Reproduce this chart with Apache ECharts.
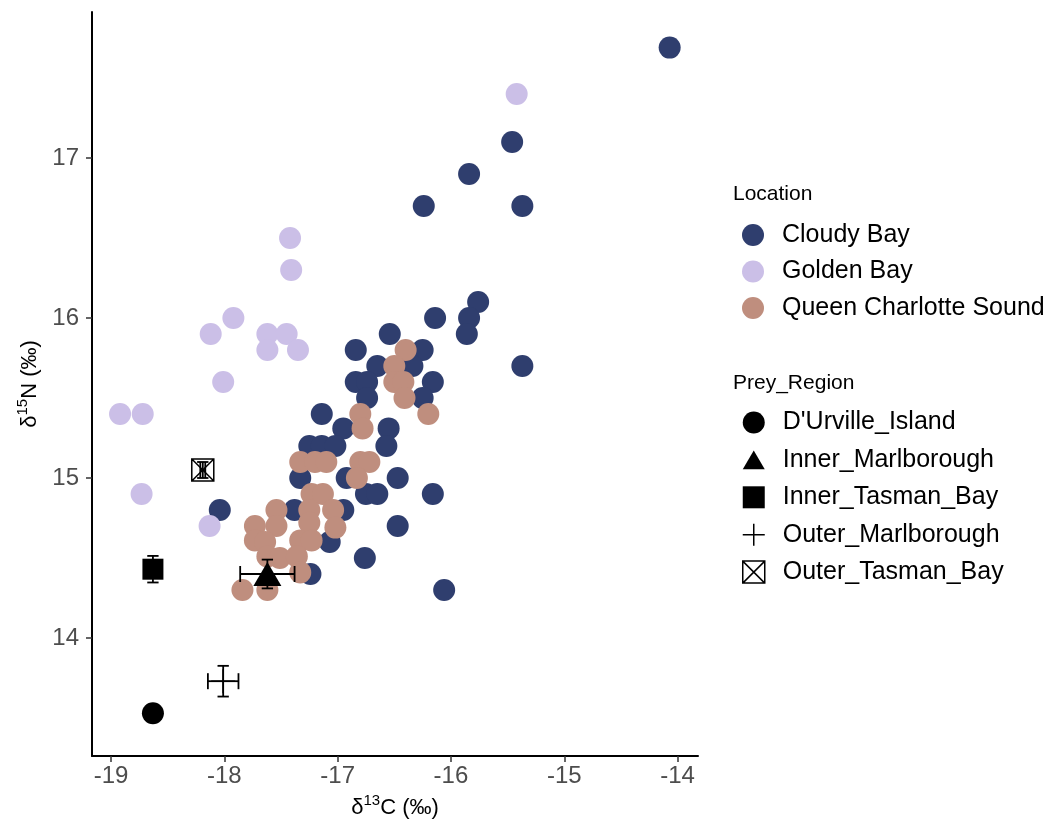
<!DOCTYPE html>
<html>
<head>
<meta charset="utf-8">
<title>δ13C vs δ15N by location and prey region</title>
<script src="https://cdn.jsdelivr.net/npm/echarts@6/dist/echarts.min.js"></script>
<style>
  html, body { margin: 0; padding: 0; background: #fff; }
  #chart { width: 1053px; height: 832px; }
</style>
</head>
<body>
<div id="chart"></div>
<script>
// Consumer isotope values [δ13C, δ15N] per sampling location
const cloudyBay = [
  [-14.07, 17.69], [-15.46, 17.10], [-15.84, 16.90], [-16.24, 16.70], [-15.37, 16.70],
  [-15.76, 16.10], [-15.84, 16.00], [-16.14, 16.00], [-15.86, 15.90], [-16.54, 15.90],
  [-15.37, 15.70], [-16.84, 15.80], [-16.25, 15.80], [-16.65, 15.70], [-16.34, 15.70],
  [-16.84, 15.60], [-16.74, 15.60], [-16.16, 15.60], [-16.74, 15.50], [-16.25, 15.50],
  [-17.14, 15.40], [-16.95, 15.31], [-16.55, 15.31], [-16.57, 15.20], [-17.25, 15.20],
  [-17.14, 15.20], [-17.02, 15.20], [-17.33, 15.00], [-16.92, 15.00], [-16.47, 15.00],
  [-16.16, 14.90], [-16.75, 14.90], [-16.65, 14.90], [-17.38, 14.80], [-16.95, 14.80],
  [-18.04, 14.80], [-17.07, 14.60], [-16.76, 14.50], [-16.47, 14.70], [-16.06, 14.30],
  [-17.24, 14.40]
];
const goldenBay = [
  [-15.42, 17.40], [-17.42, 16.50], [-17.41, 16.30], [-17.92, 16.00], [-18.12, 15.90],
  [-17.62, 15.90], [-17.45, 15.90], [-17.62, 15.80], [-17.35, 15.80], [-18.01, 15.60],
  [-18.92, 15.40], [-18.72, 15.40], [-18.73, 14.90], [-18.13, 14.70]
];
const queenCharlotte = [
  [-16.40, 15.80], [-16.50, 15.70], [-16.50, 15.60], [-16.42, 15.60], [-16.41, 15.50],
  [-16.20, 15.40], [-16.80, 15.40], [-16.78, 15.31], [-17.33, 15.10], [-17.20, 15.10],
  [-17.10, 15.10], [-16.80, 15.10], [-16.72, 15.10], [-16.83, 15.00], [-17.23, 14.90],
  [-17.13, 14.90], [-17.54, 14.80], [-17.25, 14.80], [-17.04, 14.80], [-17.73, 14.70],
  [-17.54, 14.70], [-17.25, 14.72], [-17.02, 14.69], [-17.73, 14.61], [-17.64, 14.60],
  [-17.33, 14.61], [-17.23, 14.61], [-17.62, 14.51], [-17.51, 14.50], [-17.36, 14.51],
  [-17.33, 14.41], [-17.84, 14.30], [-17.62, 14.30]
];

// Prey source means and standard deviations
const preyNames = ["D'Urville_Island", 'Inner_Marlborough', 'Inner_Tasman_Bay', 'Outer_Marlborough', 'Outer_Tasman_Bay'];
const preyC    = [-18.63, -17.62, -18.63, -18.01, -18.19];
const preyN    = [13.53, 14.40, 14.43, 13.73, 15.05];
const preySdC  = [0.03, 0.24, 0.02, 0.135, 0.022];
const preySdN  = [0.03, 0.09, 0.083, 0.096, 0.05];

const locationNames = ['Cloudy Bay', 'Golden Bay', 'Queen Charlotte Sound'];
const xTicks = [-19, -18, -17, -16, -15, -14];
const yTicks = [14, 15, 16, 17];

const FONT = "'Liberation Sans', Arial, sans-serif";
const locationColors = ['#2F3E6E', '#CBBFE7', '#BF8E7E'];

const preySymbols = [
  { symbol: 'circle', size: 22, style: { color: '#000', opacity: 1 } },
  { symbol: 'path://M0,17L10,0L20,17Z', size: 28, style: { color: '#000', opacity: 1 } },
  { symbol: 'rect', size: 21, style: { color: '#000', opacity: 1 } },
  { symbol: 'path://M0,10H20M10,0V20', size: 24,
    style: { color: 'rgba(0,0,0,0)', borderColor: '#000', borderWidth: 1.6, opacity: 1 } },
  { symbol: 'path://M0,0H20V20H0Z M0,0L20,20 M20,0L0,20', size: 22,
    style: { color: 'rgba(0,0,0,0)', borderColor: '#000', borderWidth: 1.5, opacity: 1 } }
];

const chart = echarts.init(document.getElementById('chart'), null, { renderer: 'canvas' });

const locationSeries = [cloudyBay, goldenBay, queenCharlotte].map((pts, i) => ({
  name: locationNames[i],
  type: 'scatter',
  data: pts,
  symbol: 'circle',
  symbolSize: 22,
  itemStyle: { color: locationColors[i], opacity: 1 },
  emphasis: { disabled: true },
  z: 2
}));

const preySeries = preyNames.map((name, i) => ({
  name: name,
  type: 'scatter',
  data: [[preyC[i], preyN[i]]],
  symbol: preySymbols[i].symbol,
  symbolSize: preySymbols[i].size,
  symbolKeepAspect: true,
  itemStyle: preySymbols[i].style,
  emphasis: { disabled: true },
  z: 3
}));

// Error bars (mean ± SD in both directions), caps sized in data units
const capHalfX = 0.05;   // half-width of caps on the vertical bars (δ13C units)
const capHalfY = 0.05;   // half-height of caps on the horizontal bars (δ15N units)
const errorBarSeries = {
  type: 'custom',
  name: 'errorbars',
  data: preyNames.map((n, i) => [preyC[i], preyN[i], preySdC[i], preySdN[i]]),
  renderItem: function (params, api) {
    const x = api.value(0), y = api.value(1), sx = api.value(2), sy = api.value(3);
    const style = { stroke: '#000', lineWidth: 1.8 };
    const seg = (a, b) => ({ type: 'line', shape: { x1: a[0], y1: a[1], x2: b[0], y2: b[1] }, style: style });
    return {
      type: 'group',
      children: [
        seg(api.coord([x - sx, y]), api.coord([x + sx, y])),
        seg(api.coord([x - sx, y - capHalfY]), api.coord([x - sx, y + capHalfY])),
        seg(api.coord([x + sx, y - capHalfY]), api.coord([x + sx, y + capHalfY])),
        seg(api.coord([x, y - sy]), api.coord([x, y + sy])),
        seg(api.coord([x - capHalfX, y + sy]), api.coord([x + capHalfX, y + sy])),
        seg(api.coord([x - capHalfX, y - sy]), api.coord([x + capHalfX, y - sy]))
      ]
    };
  },
  silent: true,
  z: 4
};

const legendText = {
  fontFamily: FONT,
  fontSize: 25,
  lineHeight: 30,
  color: '#000',
  rich: { g: { width: 13, fontSize: 25, lineHeight: 30 } }
};

const option = {
  animation: false,
  backgroundColor: '#ffffff',
  textStyle: { fontFamily: FONT },
  grid: { left: 92, right: 355, top: 12, bottom: 76, containLabel: false },
  title: [
    { text: 'Location', left: 733, top: 184, padding: 0,
      textStyle: { fontFamily: FONT, fontSize: 21, fontWeight: 'normal', color: '#000' } },
    { text: 'Prey_Region', left: 733, top: 373, padding: 0,
      textStyle: { fontFamily: FONT, fontSize: 21, fontWeight: 'normal', color: '#000' } }
  ],
  legend: [
    {
      data: locationNames,
      orient: 'vertical',
      left: 742, top: 220, padding: 0,
      itemWidth: 22, itemHeight: 22, itemGap: 6.5,
      selectedMode: false,
      formatter: '{g| }{name}',
      itemStyle: { opacity: 1 },
      textStyle: legendText
    },
    {
      data: preyNames.map((n, i) => ({
        name: n,
        itemStyle: i >= 3
          ? { color: 'rgba(0,0,0,0)', borderColor: '#000', borderWidth: 1.5, opacity: 1 }
          : { color: '#000', borderWidth: 0, opacity: 1 }
      })),
      orient: 'vertical',
      left: 742, top: 407.5, padding: 0,
      itemWidth: 22, itemHeight: 22, itemGap: 7.4,
      selectedMode: false,
      formatter: '{g| }{name}',
      textStyle: legendText
    }
  ],
  xAxis: {
    type: 'value',
    min: -19.1676,
    max: -13.82,
    name: '{t|δ}{s|13}{t|C (‰)}',
    nameLocation: 'middle',
    nameGap: 32,
    nameTextStyle: {
      rich: {
        t: { fontFamily: FONT, fontSize: 22, lineHeight: 30, color: '#000' },
        s: { fontFamily: FONT, fontSize: 15, lineHeight: 17, color: '#000', verticalAlign: 'top' }
      }
    },
    axisLine: { show: true, onZero: false, lineStyle: { color: '#000', width: 2 } },
    axisTick: { show: true, length: 6, customValues: xTicks, lineStyle: { color: '#333', width: 1.5 } },
    axisLabel: { customValues: xTicks, fontSize: 24, color: '#4D4D4D', margin: 8, fontFamily: FONT },
    splitLine: { show: false }
  },
  yAxis: {
    type: 'value',
    min: 13.2625,
    max: 17.9125,
    name: '{t|δ}{s|15}{t|N (‰)}',
    nameLocation: 'middle',
    nameRotate: 90,
    nameGap: 36,
    nameTextStyle: {
      rich: {
        t: { fontFamily: FONT, fontSize: 22, lineHeight: 30, color: '#000' },
        s: { fontFamily: FONT, fontSize: 15, lineHeight: 17, color: '#000', verticalAlign: 'top' }
      }
    },
    axisLine: { show: true, onZero: false, lineStyle: { color: '#000', width: 2 } },
    axisTick: { show: true, length: 6, customValues: yTicks, lineStyle: { color: '#333', width: 1.5 } },
    axisLabel: { customValues: yTicks, fontSize: 24, color: '#4D4D4D', margin: 13, fontFamily: FONT },
    splitLine: { show: false }
  },
  series: locationSeries.concat(preySeries, [errorBarSeries])
};

chart.setOption(option);
</script>
</body>
</html>
